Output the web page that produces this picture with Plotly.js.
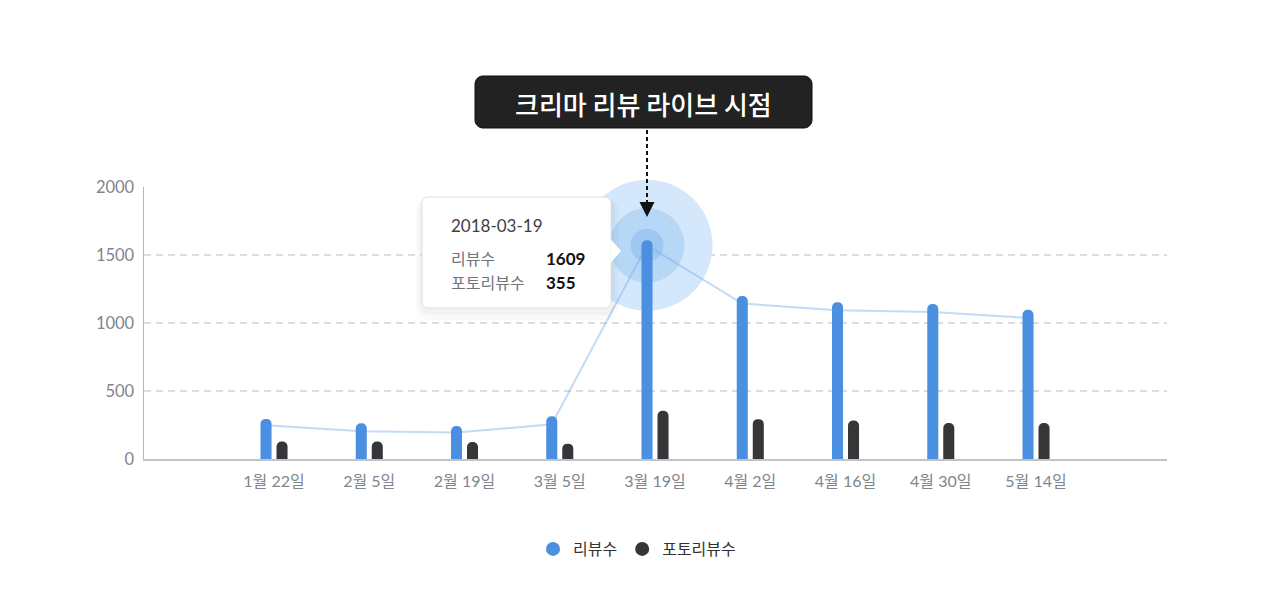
<!DOCTYPE html>
<html>
<head>
<meta charset="utf-8">
<script src="https://cdn.plot.ly/plotly-3.0.1.min.js"></script>
<style>
  html, body { margin: 0; padding: 0; background: #fff; }
  #plot { width: 1280px; height: 593px; }
</style>
</head>
<body>
<div id="plot"></div>
<script>
// 격주 단위 리뷰 수 (2018)
var tickLabels = ['1월 22일', '2월 5일', '2월 19일', '3월 5일', '3월 19일', '4월 2일', '4월 16일', '4월 30일', '5월 14일'];
var dates = ['2018-01-22', '2018-02-05', '2018-02-19', '2018-03-05', '2018-03-19', '2018-04-02', '2018-04-16', '2018-04-30', '2018-05-14'];
var reviews = [295, 263, 243, 314, 1609, 1199, 1153, 1140, 1098];
var photoReviews = [129, 129, 125, 113, 355, 293, 283, 264, 264];
var trend = [248, 204, 194, 255, 1571, 1143, 1093, 1081, 1037];
var seriesNames = ['리뷰수', '포토리뷰수'];
var calloutText = '크리마 리뷰 라이브 시점';
var liveIndex = 4;

(function (document, window) {
    var FONT = 'Lato, "Noto Sans CJK KR", sans-serif';
    var KR = '"Noto Sans CJK KR", Lato, sans-serif';
    var BLUE = '#4a8fe0';
    var DARK = '#343638';

    // 픽셀 -> paper 좌표 (plot 영역: x 144~1167, y 187~459)
    var L = 144, R = 1167, T = 187, B = 459;
    function px(x) { return (x - L) / (R - L); }
    function py(y) { return (B - y) / (B - T); }

    function roundRect(x0, y0, x1, y1, r) {
        var k = 0.45 * r;
        return 'M' + px(x0 + r) + ',' + py(y0) +
            ' L' + px(x1 - r) + ',' + py(y0) +
            ' C' + px(x1 - k) + ',' + py(y0) + ' ' + px(x1) + ',' + py(y0 + k) + ' ' + px(x1) + ',' + py(y0 + r) +
            ' L' + px(x1) + ',' + py(y1 - r) +
            ' C' + px(x1) + ',' + py(y1 - k) + ' ' + px(x1 - k) + ',' + py(y1) + ' ' + px(x1 - r) + ',' + py(y1) +
            ' L' + px(x0 + r) + ',' + py(y1) +
            ' C' + px(x0 + k) + ',' + py(y1) + ' ' + px(x0) + ',' + py(y1 - k) + ' ' + px(x0) + ',' + py(y1 - r) +
            ' L' + px(x0) + ',' + py(y0 + r) +
            ' C' + px(x0) + ',' + py(y0 + k) + ' ' + px(x0 + k) + ',' + py(y0) + ' ' + px(x0 + r) + ',' + py(y0) + ' Z';
    }

    function poly(pts) {
        return pts.map(function (p, i) {
            return (i ? 'L' : 'M') + px(p[0]) + ',' + py(p[1]);
        }).join(' ') + ' Z';
    }

    document.addEventListener("DOMContentLoaded", function () {
        var hiX = [tickLabels[liveIndex]];
        var hiY = [trend[liveIndex]];
        var empty = tickLabels.map(function () { return null; });

        var data = [
            // 강조 원
            { type: 'scatter', mode: 'markers', x: hiX, y: hiY, offsetgroup: 'a', showlegend: false, hoverinfo: 'skip', cliponaxis: false,
              marker: { size: 131, color: '#d5e8fb', line: { width: 0 } } },
            { type: 'scatter', mode: 'markers', x: hiX, y: hiY, offsetgroup: 'a', showlegend: false, hoverinfo: 'skip', cliponaxis: false,
              marker: { size: 75, color: '#b7d7f7', line: { width: 0 } } },
            { type: 'scatter', mode: 'markers', x: hiX, y: hiY, offsetgroup: 'a', showlegend: false, hoverinfo: 'skip', cliponaxis: false,
              marker: { size: 33, color: '#9dc8f2', line: { width: 0 } } },
            // 추세선
            { type: 'scatter', mode: 'lines', x: tickLabels, y: trend, offsetgroup: 'a', showlegend: false, hoverinfo: 'skip',
              line: { color: 'rgba(120,175,235,0.45)', width: 2 } },
            // 범례용
            { type: 'scatter', mode: 'markers', x: tickLabels, y: empty,
              name: seriesNames[0], offsetgroup: 'a', marker: { color: BLUE, size: 14 } },
            { type: 'scatter', mode: 'markers', x: tickLabels, y: empty,
              name: seriesNames[1], offsetgroup: 'b', marker: { color: DARK, size: 14 } },
            // 막대
            { type: 'bar', x: tickLabels, y: reviews, name: seriesNames[0], yaxis: 'y2', offsetgroup: 'a', showlegend: false,
              marker: { color: BLUE, cornerradius: 6 } },
            { type: 'bar', x: tickLabels, y: photoReviews, name: seriesNames[1], yaxis: 'y2', offsetgroup: 'b', showlegend: false,
              marker: { color: DARK, cornerradius: 6 } }
        ];

        var shapes = [
            // 콜아웃 박스
            { type: 'path', xref: 'paper', yref: 'paper', layer: 'above', path: roundRect(475, 76, 812, 128, 8),
              fillcolor: '#222222', line: { color: '#111111', width: 1 } },
            { type: 'line', xref: 'paper', yref: 'paper', layer: 'above',
              x0: px(647), x1: px(647), y0: py(130), y1: py(203), line: { color: '#111', width: 2, dash: '4px,3px' } },
            { type: 'path', xref: 'paper', yref: 'paper', layer: 'above', path: poly([[639.5, 202], [654.5, 202], [647, 217]]),
              fillcolor: '#111', line: { width: 0 } },
            // 툴팁 그림자
            { type: 'path', xref: 'paper', yref: 'paper', layer: 'above', path: roundRect(416, 199, 619, 320, 12),
              fillcolor: 'rgba(0,0,0,0.02)', line: { width: 0 } },
            { type: 'path', xref: 'paper', yref: 'paper', layer: 'above', path: roundRect(419, 198, 615, 315, 9),
              fillcolor: 'rgba(0,0,0,0.03)', line: { width: 0 } },
            // 툴팁
            { type: 'path', xref: 'paper', yref: 'paper', layer: 'above', path: roundRect(422, 197, 611, 308, 6),
              fillcolor: '#ffffff', line: { color: '#dcdfe4', width: 1 } },
            { type: 'path', xref: 'paper', yref: 'paper', layer: 'above', path: poly([[610.5, 239], [621, 251], [610.5, 263]]),
              fillcolor: '#ffffff', line: { width: 0 } }
        ];

        var annotations = [
            { xref: 'paper', yref: 'paper', x: px(643.5), y: py(103), text: calloutText, showarrow: false,
              xanchor: 'center', yanchor: 'middle', font: { family: KR, size: 26, weight: 500, color: '#ffffff' } },
            { xref: 'paper', yref: 'paper', x: px(449), y: py(225), text: dates[liveIndex], showarrow: false,
              xanchor: 'left', yanchor: 'middle', font: { family: FONT, size: 17, color: '#3c4047' } },
            { xref: 'paper', yref: 'paper', x: px(449), y: py(258), text: seriesNames[0], showarrow: false,
              xanchor: 'left', yanchor: 'middle', font: { family: KR, size: 16, color: '#70757d' } },
            { xref: 'paper', yref: 'paper', x: px(449), y: py(282), text: seriesNames[1], showarrow: false,
              xanchor: 'left', yanchor: 'middle', font: { family: KR, size: 16, color: '#70757d' } },
            { xref: 'paper', yref: 'paper', x: px(544), y: py(258), text: '<b>' + reviews[liveIndex] + '</b>', showarrow: false,
              xanchor: 'left', yanchor: 'middle', font: { family: FONT, size: 17, color: '#111' } },
            { xref: 'paper', yref: 'paper', x: px(544), y: py(282), text: '<b>' + photoReviews[liveIndex] + '</b>', showarrow: false,
              xanchor: 'left', yanchor: 'middle', font: { family: FONT, size: 17, color: '#111' } }
        ];

        var layout = {
            width: 1280,
            height: 593,
            margin: { l: L, r: 1280 - R, t: T, b: 593 - B },
            paper_bgcolor: '#ffffff',
            plot_bgcolor: '#ffffff',
            font: { family: FONT, size: 16, color: '#7f858d' },
            barmode: 'group',
            bargap: 0.664,
            bargroupgap: 0.31,
            scattermode: 'group',
            scattergap: 0.664,
            hovermode: false,
            xaxis: {
                type: 'category',
                categoryorder: 'array',
                categoryarray: tickLabels,
                range: [-1.365, 9.375],
                showgrid: false,
                showline: true,
                linecolor: '#c0c4ca',
                linewidth: 1.5,
                zeroline: false,
                ticks: '',
                ticklabelstandoff: 7,
                tickfont: { family: FONT, size: 16, color: '#7f858d' }
            },
            yaxis: {
                range: [0, 2000],
                tickvals: [0, 500, 1000, 1500, 2000],
                showgrid: true,
                gridcolor: '#d9dde3',
                griddash: '7px,5px',
                gridwidth: 1.3,
                showline: true,
                linecolor: '#b3b8bf',
                linewidth: 1.5,
                zeroline: false,
                ticks: '',
                ticklabelstandoff: 5,
                tickfont: { family: FONT, size: 16.5, color: '#7f858d' }
            },
            yaxis2: {
                overlaying: 'y',
                range: [0, 2000],
                visible: false,
                showgrid: false,
                zeroline: false
            },
            showlegend: true,
            legend: {
                orientation: 'h',
                x: px(637), xanchor: 'center',
                y: py(549), yanchor: 'middle',
                font: { family: KR, size: 16, color: '#333333' },
                itemwidth: 30
            },
            shapes: shapes,
            annotations: annotations
        };

        Plotly.newPlot('plot', data, layout, { displayModeBar: false, staticPlot: true });
    });
})(document, window);
</script>
</body>
</html>
